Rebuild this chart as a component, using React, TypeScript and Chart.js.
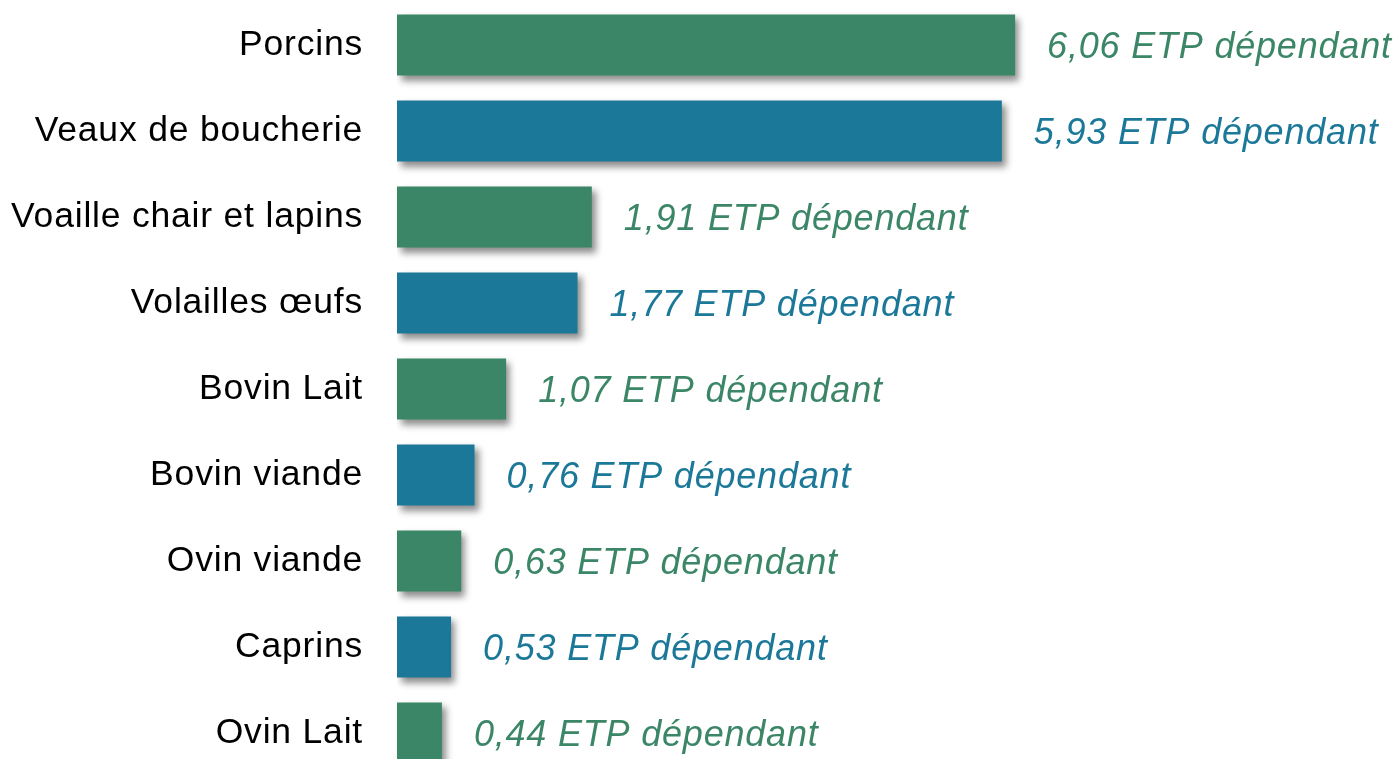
import React, { useEffect, useRef } from "react";
import { Chart, registerables } from "chart.js";

Chart.register(...registerables);

const categories = [
  "Porcins",
  "Veaux de boucherie",
  "Voaille chair et lapins",
  "Volailles œufs",
  "Bovin Lait",
  "Bovin viande",
  "Ovin viande",
  "Caprins",
  "Ovin Lait",
];
const values = [6.06, 5.93, 1.91, 1.77, 1.07, 0.76, 0.63, 0.53, 0.44];
const valueLabels = [
  "6,06 ETP dépendant",
  "5,93 ETP dépendant",
  "1,91 ETP dépendant",
  "1,77 ETP dépendant",
  "1,07 ETP dépendant",
  "0,76 ETP dépendant",
  "0,63 ETP dépendant",
  "0,53 ETP dépendant",
  "0,44 ETP dépendant",
];
const GREEN = "#3b8666";
const BLUE = "#1c7899";
const barColors = categories.map((_, i) => (i % 2 === 0 ? GREEN : BLUE));

const shadowPlugin = {
  id: "barShadow",
  beforeDraw(chart: any) {
    chart.ctx.letterSpacing = "0.8px";
  },
  beforeDatasetsDraw(chart: any) {
    const ctx = chart.ctx;
    ctx.save();
    ctx.shadowColor = "rgba(0,0,0,0.45)";
    ctx.shadowBlur = 7;
    ctx.shadowOffsetX = 4;
    ctx.shadowOffsetY = 5;
  },
  afterDatasetsDraw(chart: any) {
    chart.ctx.restore();
    const ctx = chart.ctx;
    const meta = chart.getDatasetMeta(0);
    ctx.save();
    ctx.letterSpacing = "0.8px";
    ctx.font = "italic 36px 'Liberation Sans', Arial, sans-serif";
    ctx.textAlign = "left";
    ctx.textBaseline = "middle";
    meta.data.forEach((bar: any, i: number) => {
      ctx.fillStyle = barColors[i];
      ctx.fillText(valueLabels[i], bar.x + 32, bar.y + 3);
    });
    ctx.restore();
  },
};

export default function App() {
  const ref = useRef<HTMLCanvasElement>(null);
  useEffect(() => {
    document.body.style.margin = "0";
    const chart = new Chart(ref.current!, {
      type: "bar",
      data: {
        labels: categories,
        datasets: [
          {
            data: values,
            backgroundColor: barColors,
            borderWidth: 0,
            barPercentage: 0.71,
            categoryPercentage: 1,
          },
        ],
      },
      options: {
        indexAxis: "y",
        responsive: false,
        maintainAspectRatio: false,
        animation: false,
        devicePixelRatio: 1,
        layout: { padding: { top: 2, right: 34, bottom: 0, left: 0 } },
        plugins: {
          legend: { display: false },
          tooltip: { enabled: false },
        },
        scales: {
          x: {
            display: false,
            min: 0,
            max: 9.5,
          },
          y: {
            grid: { display: false, drawTicks: false },
            border: { display: false },
            afterFit(scale: any) {
              scale.width = 397;
              scale.paddingTop = 0;
              scale.paddingBottom = 0;
            },
            ticks: {
              padding: 34,
              color: "#000",
              font: { family: "'Liberation Sans', Arial, sans-serif", size: 35.5 },
            },
          },
        },
      },
      plugins: [shadowPlugin],
    });
    return () => chart.destroy();
  }, []);
  return (
    <div style={{ width: 1400, height: 759, overflow: "hidden", background: "#fff" }}>
      <canvas ref={ref} width={1400} height={776} style={{ display: "block", width: 1400, height: 776 }} />
    </div>
  );
}
